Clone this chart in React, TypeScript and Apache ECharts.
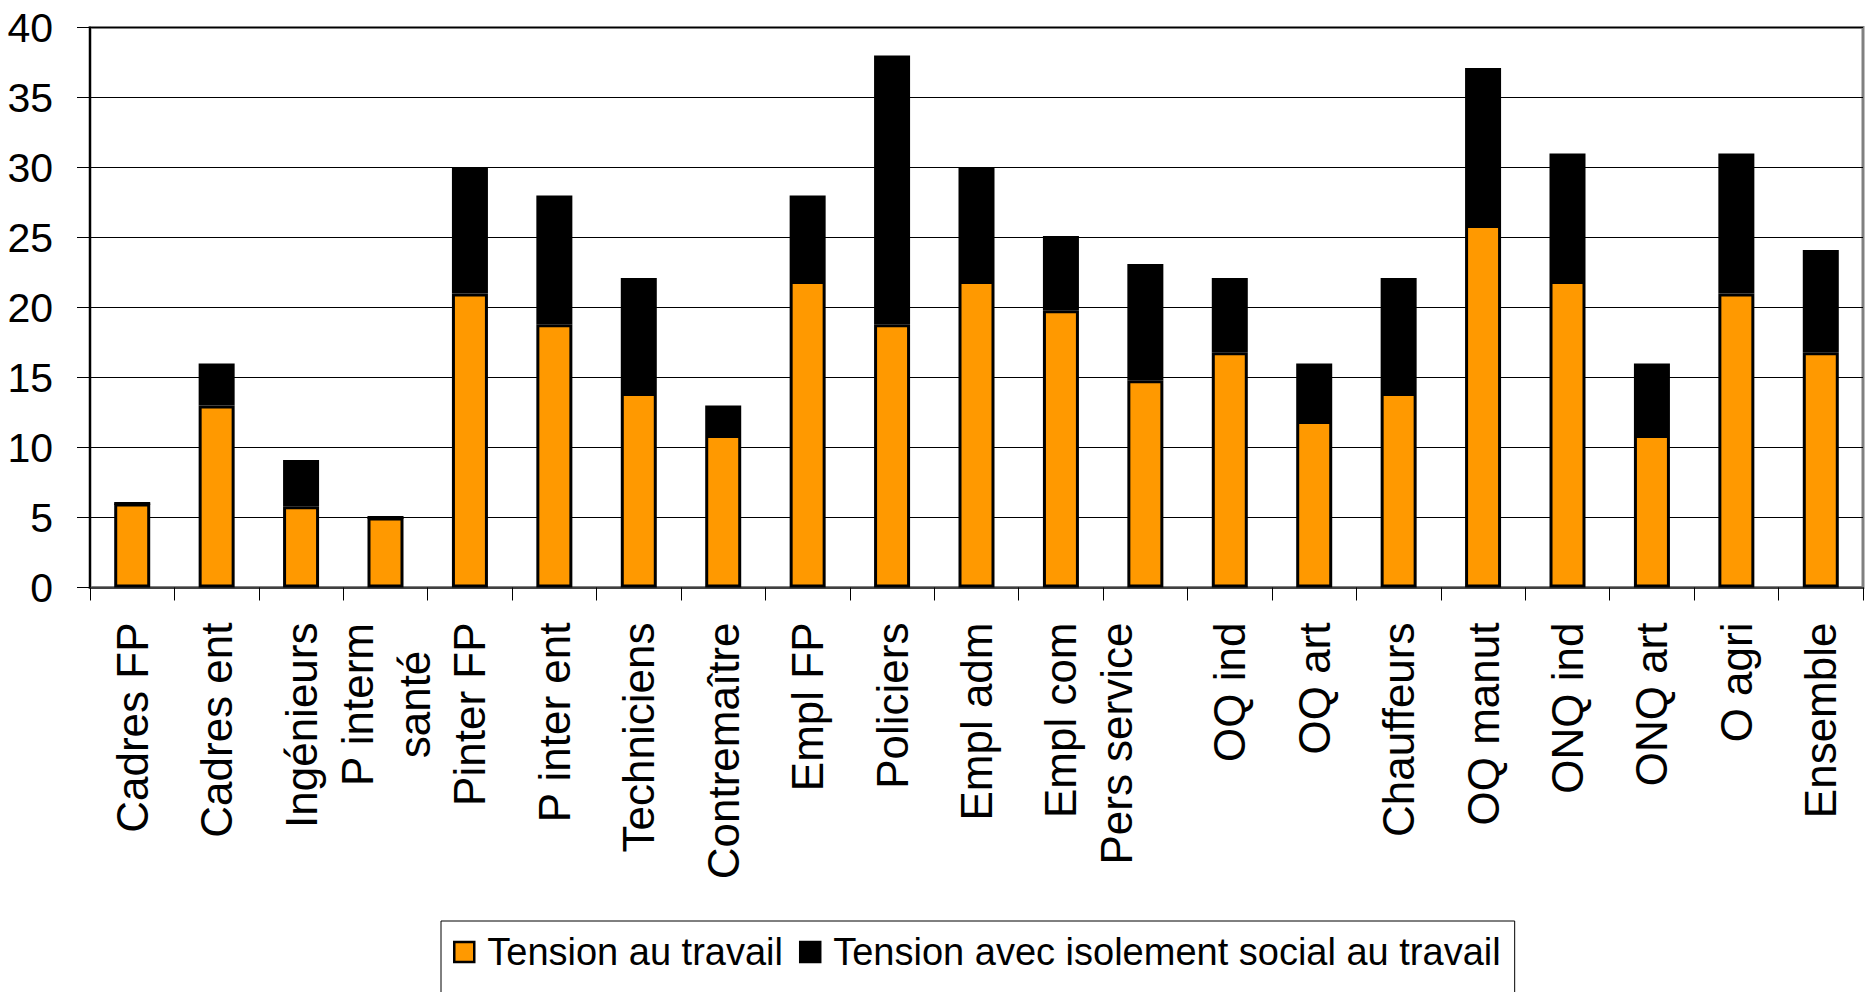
import React, { useEffect, useRef } from "react";
import * as echarts from "echarts";

const categories = [
  "Cadres FP",
  "Cadres ent",
  "Ingénieurs",
  "P interm santé",
  "Pinter FP",
  "P inter ent",
  "Techniciens",
  "Contremaître",
  "Empl FP",
  "Policiers",
  "Empl adm",
  "Empl com",
  "Pers service",
  "OQ ind",
  "OQ art",
  "Chauffeurs",
  "OQ manut",
  "ONQ ind",
  "ONQ art",
  "O agri",
  "Ensemble",
];

// Orange segment: "Tension au travail"
const tensionValues = [6, 13, 5.8, 5, 21, 18.8, 13.9, 10.9, 21.9, 18.8, 21.9, 19.8, 14.8, 16.8, 11.9, 13.9, 25.9, 21.9, 10.9, 21, 16.8];
// Black segment stacked on top: "Tension avec isolement social au travail"
const isolementValues = [0, 3, 3.3, 0, 9, 9.2, 8.2, 2.1, 6.1, 19.2, 8.1, 5.3, 8.3, 5.3, 4.1, 8.2, 11.2, 9.1, 5.1, 10, 7.3];

const yTicks = { min: 0, max: 40, interval: 5 };

const seriesNames = ["Tension au travail", "Tension avec isolement social au travail"];

const FONT = '"Liberation Sans", Arial, Helvetica, sans-serif';

export default function App() {
  const ref = useRef<HTMLDivElement>(null);

  useEffect(() => {
    if (!ref.current) return;
    const chart = echarts.init(ref.current, undefined, { renderer: "svg" });
    chart.setOption({
      animation: false,
      backgroundColor: "#ffffff",
      textStyle: { fontFamily: FONT },
      grid: {
        left: 90,
        right: 7,
        top: 27.5,
        bottom: 404.5,
        show: true,
        borderColor: "#808080",
        borderWidth: 3,
        backgroundColor: "transparent",
      },
      legend: {
        show: true,
        left: 441,
        top: 921,
        orient: "horizontal",
        borderColor: "#000000",
        borderWidth: 1,
        padding: [11, 14, 60, 12],
        itemGap: 16,
        itemWidth: 20,
        itemHeight: 20,
        icon: "rect",
        itemStyle: { borderWidth: 2.5, borderColor: "#000000" },
        textStyle: {
          fontFamily: FONT,
          fontSize: 38,
          color: "#000000",
          lineHeight: 40,
          padding: [0, 0, 0, 8],
        },
        data: seriesNames,
      },
      xAxis: {
        type: "category",
        data: categories,
        axisLine: { show: true, lineStyle: { color: "#404040", width: 2 } },
        axisTick: { show: true, length: 13, lineStyle: { color: "#000000", width: 1 } },
        splitLine: { show: false },
        axisLabel: {
          interval: 0,
          rotate: 90,
          margin: 35,
          fontFamily: FONT,
          fontSize: 44,
          color: "#000000",
          lineHeight: 57,
          formatter: (v: string) => {
            if (v === "P interm santé") return "{w|P interm}\n{w|santé}";
            if (v === "Pers service") return "Pers service\n ";
            return v;
          },
          rich: {
            w: {
              width: 164,
              align: "center",
              fontFamily: FONT,
              fontSize: 44,
              lineHeight: 57,
              color: "#000000",
            },
          },
        },
      },
      yAxis: {
        type: "value",
        min: yTicks.min,
        max: yTicks.max,
        interval: yTicks.interval,
        axisLine: { show: true, lineStyle: { color: "#000000", width: 2 } },
        axisTick: { show: true, length: 13, lineStyle: { color: "#000000", width: 1 } },
        splitLine: { show: true, lineStyle: { color: "#000000", width: 1 } },
        axisLabel: {
          margin: 37,
          fontFamily: FONT,
          fontSize: 41,
          color: "#000000",
        },
      },
      series: [
        {
          name: seriesNames[0],
          type: "bar",
          stack: "total",
          data: tensionValues,
          barWidth: 36,
          itemStyle: { color: "#FF9900", borderColor: "#000000", borderWidth: 3 },
        },
        {
          name: seriesNames[1],
          type: "bar",
          stack: "total",
          data: isolementValues,
          barWidth: 36,
          itemStyle: { color: "#000000", borderColor: "#000000", borderWidth: 3 },
        },
      ],
    });
    return () => chart.dispose();
  }, []);

  return (
    <div
      ref={ref}
      style={{ position: "fixed", left: 0, top: 0, width: 1870, height: 992, background: "#fff" }}
    />
  );
}
